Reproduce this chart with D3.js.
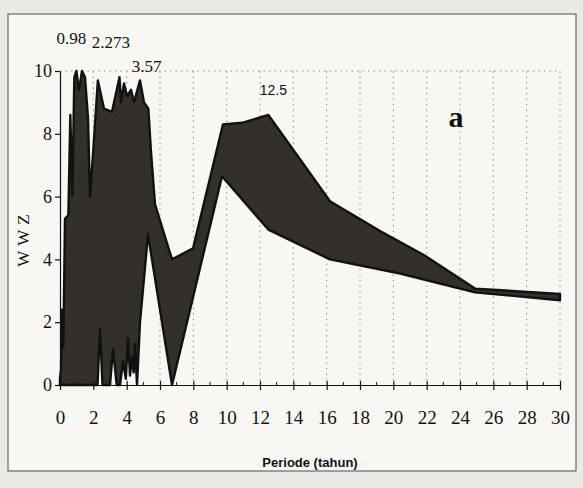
<!DOCTYPE html>
<html>
<head>
<meta charset="utf-8">
<script src="https://cdn.jsdelivr.net/npm/d3@7"></script>
<style>
    html, body { margin: 0; padding: 0; background: #ebe9e6; }
    svg { display: block; }
</style>
</head>
<body>
<div id="chart"></div>
<script>
// WWZ envelope (max / min over all curves) against period in years
const upperPeriod = [0, 0.06, 0.12, 0.2, 0.3, 0.5, 0.62, 0.74, 0.86, 0.98,
    1.14, 1.32, 1.5, 1.68, 1.8, 2.0, 2.273, 2.64, 3.12, 3.57,
    3.66, 3.84, 4.02, 4.26, 4.44, 4.8, 5.04, 5.3, 5.45, 5.7,
    6.72, 7.98, 9.78, 10.92, 12.5, 16.2, 19.2, 21.8, 24.9, 30];
const upperWWZ = [0.2, 0.5, 2.4, 1.2, 5.3, 5.4, 8.6, 6.0, 9.8, 10,
    9.4, 10, 9.8, 8.5, 6.0, 7.5, 9.7, 8.8, 8.7, 9.8,
    9.0, 9.6, 9.2, 9.4, 9.0, 9.7, 9.0, 8.8, 7.5, 5.75,
    4.0, 4.35, 8.3, 8.35, 8.6, 5.85, 4.9, 4.15, 3.07, 2.9];

const lowerPeriod = [0, 2.25, 2.4, 2.55, 3.0, 3.18, 3.4, 3.6, 3.78, 3.95,
    4.08, 4.2, 4.32, 4.42, 4.5, 4.62, 4.8, 5.28, 6.72, 9.72,
    12.5, 16.2, 20.4, 24.9, 30];
const lowerWWZ = [0, 0, 1.8, 0, 0, 1.15, 0, 0, 0.75, 0.2,
    1.5, 0.3, 0.9, 0.4, 1.3, 0, 2.0, 4.8, 0, 6.65,
    4.95, 4.0, 3.55, 2.95, 2.7];

const xTicks = [0, 2, 4, 6, 8, 10, 12, 14, 16, 18, 20, 22, 24, 26, 28, 30];
const yTicks = [0, 2, 4, 6, 8, 10];
const peakPeriods = [0.98, 2.273, 3.57, 12.5];
const peakLabels = ["0.98", "2.273", "3.57", "12.5"];
const panelLabel = "a";

const W = 583, H = 488;
const serif = "'Liberation Serif', 'Times New Roman', serif";
const sans = "'Liberation Sans', Arial, sans-serif";

const svg = d3.select("#chart")
    .append("svg")
    .attr("width", W)
    .attr("height", H);

// paper frame
svg.append("rect")
    .attr("x", 8).attr("y", 14)
    .attr("width", 568).attr("height", 457)
    .attr("fill", "#f8f7f4")
    .attr("stroke", "#6a6764")
    .attr("stroke-width", 1.2);

const x = d3.scaleLinear().domain([0, 30]).range([60, 560]);
const y = d3.scaleLinear().domain([0, 10]).range([385, 71]);

// dotted vertical grid
svg.append("g")
    .selectAll("line")
    .data(xTicks.filter(d => d > 0))
    .enter().append("line")
    .attr("x1", d => x(d)).attr("x2", d => x(d))
    .attr("y1", y(10)).attr("y2", y(0))
    .attr("stroke", "#9c8a90")
    .attr("stroke-width", 1)
    .attr("stroke-dasharray", "1.5,4");

svg.append("line")
    .attr("x1", x(0)).attr("x2", x(30))
    .attr("y1", y(10)).attr("y2", y(10))
    .attr("stroke", "#9c8a90")
    .attr("stroke-width", 1)
    .attr("stroke-dasharray", "1.5,4");

// envelope band: upper curve forward, lower curve back
const upper = upperPeriod.map((p, i) => [x(p), y(upperWWZ[i])]);
const lower = lowerPeriod.map((p, i) => [x(p), y(lowerWWZ[i])]).reverse();
const band = d3.line()(upper.concat(lower)) + "Z";

svg.append("path")
    .attr("d", band)
    .attr("fill", "#33302c")
    .attr("stroke", "#131110")
    .attr("stroke-width", 2.4)
    .attr("stroke-linejoin", "round");

// axes
const yAxis = svg.append("g")
    .attr("transform", `translate(${x(0)},0)`)
    .call(d3.axisLeft(y).tickValues(yTicks).tickSize(5).tickSizeOuter(0).tickPadding(3));

yAxis.selectAll("text")
    .style("font-family", serif)
    .style("font-size", "18px")
    .attr("fill", "#111");

const xAxis = svg.append("g")
    .attr("transform", `translate(0,${y(0)})`)
    .call(d3.axisBottom(x).tickValues(xTicks).tickSize(5).tickSizeOuter(0).tickPadding(21));

xAxis.selectAll(".tick")
    .append("line")
    .attr("y2", -4)
    .attr("stroke", "currentColor");

xAxis.selectAll("text")
    .style("font-family", serif)
    .style("font-size", "19px")
    .attr("fill", "#111");

xAxis.selectAll(".minor")
    .data(xTicks.filter(d => d < 30).map(d => d + 1))
    .enter().append("line")
    .attr("class", "minor")
    .attr("x1", d => x(d)).attr("x2", d => x(d))
    .attr("y1", 0).attr("y2", -3)
    .attr("stroke", "#111");

svg.selectAll(".domain, .tick line").attr("stroke", "#111").attr("stroke-width", 1.2);

// peak annotations
const labelDx = [-5, 13, 27, 5];
const labelDy = [-27, -23, 1, 24];
svg.selectAll(".peak")
    .data(peakPeriods)
    .enter().append("text")
    .attr("class", "peak")
    .attr("x", (d, i) => x(d) + labelDx[i])
    .attr("y", (d, i) => y(10) + labelDy[i])
    .attr("text-anchor", "middle")
    .style("font-family", (d, i) => i === 3 ? sans : serif)
    .style("font-size", (d, i) => i === 3 ? "14px" : "17px")
    .attr("fill", "#111")
    .text((d, i) => peakLabels[i]);

svg.append("text")
    .attr("x", 456)
    .attr("y", 127)
    .attr("text-anchor", "middle")
    .style("font-family", serif)
    .style("font-size", "30px")
    .style("font-weight", "bold")
    .attr("fill", "#111")
    .text(panelLabel);

svg.append("text")
    .attr("transform", "translate(29,238) rotate(-90)")
    .attr("text-anchor", "middle")
    .style("font-family", serif)
    .style("font-size", "17px")
    .style("letter-spacing", "5px")
    .attr("fill", "#111")
    .text("WWZ");

svg.append("text")
    .attr("x", 310)
    .attr("y", 467)
    .attr("text-anchor", "middle")
    .style("font-family", sans)
    .style("font-size", "13px")
    .style("font-weight", "bold")
    .attr("fill", "#111")
    .text("Periode (tahun)");
</script>
</body>
</html>
